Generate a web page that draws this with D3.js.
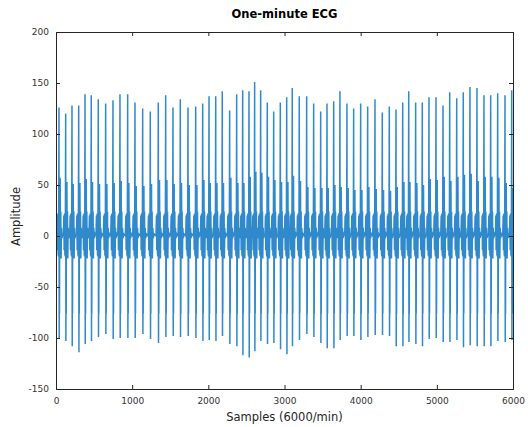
<!DOCTYPE html>
<html>
<head>
<meta charset="utf-8">
<script src="https://cdn.jsdelivr.net/npm/d3@7"></script>
<style>
  body { margin: 0; background: #fff; }
  svg { display: block; font-family: "DejaVu Sans", sans-serif; }
</style>
</head>
<body>
<svg id="chart" width="528" height="427"></svg>
<script>
// Beat data: sample of each R peak and its R / S / T levels
const beatSample = [39, 127, 210, 298, 381, 463, 555, 652, 748, 840, 941, 1037, 1138, 1238, 1343, 1440, 1536, 1632,
  1733, 1834, 1926, 2009, 2097, 2183, 2280, 2372, 2451, 2534, 2608, 2687, 2774, 2858, 2945, 3029, 3102, 3194, 3291,
  3383, 3475, 3558, 3646, 3728, 3820, 3908, 4000, 4092, 4188, 4284, 4376, 4464, 4552, 4631, 4722, 4809, 4897, 4989,
  5081, 5169, 5261, 5347, 5435, 5527, 5619, 5707, 5799, 5895, 5983];
const rPeak = [126, 120, 128, 128, 139, 138, 134, 130, 133, 139, 139, 131, 125, 122, 131, 138, 126, 134, 126, 127,
  130, 137, 137, 142, 123, 139, 143, 142, 151, 143, 131, 122, 131, 136, 145, 137, 137, 130, 122, 130, 132, 142, 130,
  125, 130, 127, 134, 121, 127, 124, 131, 142, 131, 131, 136, 136, 128, 141, 135, 141, 146, 145, 138, 138, 140, 138, 143];
const sTrough = [-100, -103, -108, -114, -106, -103, -99, -96, -101, -100, -100, -100, -96, -101, -105, -99, -98, -99,
  -98, -100, -103, -102, -103, -98, -106, -108, -117, -119, -113, -103, -106, -105, -111, -116, -108, -102, -96, -99,
  -105, -110, -110, -102, -98, -98, -102, -99, -97, -97, -98, -108, -108, -104, -106, -108, -101, -100, -104, -104,
  -102, -109, -107, -108, -108, -108, -103, -104, -102];
const tPeak = [57, 53, 51, 52, 56, 53, 51, 51, 52, 54, 52, 49, 49, 51, 55, 55, 51, 52, 50, 50, 55, 52, 52, 52, 57, 52,
  52, 58, 63, 62, 58, 55, 53, 53, 59, 54, 48, 47, 47, 47, 50, 48, 47, 45, 45, 48, 46, 45, 44, 48, 53, 53, 52, 50, 56,
  55, 58, 54, 58, 60, 61, 54, 58, 58, 57, 52, 47];

// Shape of one beat: sample offset from the R peak and level ('R', 'S', 'T' taken from the beat arrays)
const waveOffset = [-30, -24, -20, -15, -10, -5, 0, 3, 5, 7, 10, 13, 16, 20, 24, 28, 33, 40, 50];
const waveLevel = [0, 20, -14, 22, -18, -20, 'R', 'S', -20, -76, 'T', -20, 'T', -18, 24, -22, 8, -2, 2];

const xTicks = [0, 1000, 2000, 3000, 4000, 5000, 6000];
const yTicks = [-150, -100, -50, 0, 50, 100, 150, 200];

// Build the sample series
const ecg = [{ s: 0, v: 0 }];
beatSample.forEach((b, i) => {
    waveOffset.forEach((o, k) => {
        const lv = waveLevel[k];
        const v = lv === 'R' ? rPeak[i] : lv === 'S' ? sTrough[i] : lv === 'T' ? tPeak[i] : lv;
        ecg.push({ s: b + o, v: v });
    });
});

const svg = d3.select('#chart');
const margin = { top: 32, right: 15, bottom: 38, left: 56 };
const width = 528 - margin.left - margin.right;
const height = 427 - margin.top - margin.bottom;
const axisColor = '#262626';

const g = svg.append('g').attr('transform', `translate(${margin.left},${margin.top})`);

const xScale = d3.scaleLinear().domain([0, 6000]).range([0, width]);
const yScale = d3.scaleLinear().domain([-150, 200]).range([height, 0]);

g.append('clipPath').attr('id', 'plotClip')
    .append('rect').attr('width', width).attr('height', height);

const lineGenerator = d3.line()
    .x(d => xScale(d.s))
    .y(d => yScale(d.v));

g.append('path')
    .datum(ecg)
    .attr('clip-path', 'url(#plotClip)')
    .attr('fill', 'none')
    .attr('stroke', '#1a7cc4')
    .attr('stroke-width', 1.5)
    .attr('stroke-opacity', 0.9)
    .attr('d', lineGenerator);

// Axes, MATLAB-like box with inward ticks
const tickLen = 4;
const fmt = d => d < 0 ? `-${Math.abs(d)}` : `${d}`;

const xAxis = g.append('g')
    .attr('transform', `translate(0,${height})`)
    .call(d3.axisBottom(xScale).tickValues(xTicks).tickSize(-tickLen).tickPadding(tickLen + 5).tickFormat(fmt));
const yAxis = g.append('g')
    .call(d3.axisLeft(yScale).tickValues(yTicks).tickSize(-tickLen).tickPadding(tickLen + 3).tickFormat(fmt));
const xTop = g.append('g')
    .call(d3.axisTop(xScale).tickValues(xTicks).tickSize(-tickLen).tickFormat(''));
const yRight = g.append('g')
    .attr('transform', `translate(${width},0)`)
    .call(d3.axisRight(yScale).tickValues(yTicks).tickSize(-tickLen).tickFormat(''));

[xAxis, yAxis, xTop, yRight].forEach(a => {
    a.select('.domain').attr('stroke', axisColor).attr('stroke-width', 1);
    a.selectAll('.tick line').attr('stroke', axisColor);
    a.selectAll('.tick text')
        .attr('fill', '#333')
        .style('font-family', '"DejaVu Sans", sans-serif')
        .style('font-size', '9px');
});

// Title and axis labels
svg.append('text')
    .attr('x', margin.left + width / 2)
    .attr('y', 18)
    .attr('text-anchor', 'middle')
    .attr('fill', '#000')
    .style('font-weight', 'bold')
    .style('font-size', '11.5px')
    .text('One-minute ECG');

svg.append('text')
    .attr('x', margin.left + width / 2)
    .attr('y', 421)
    .attr('text-anchor', 'middle')
    .attr('fill', axisColor)
    .style('font-size', '11.5px')
    .text('Samples (6000/min)');

svg.append('text')
    .attr('transform', `translate(20,${margin.top + height / 2 + 6}) rotate(-90)`)
    .attr('text-anchor', 'middle')
    .attr('fill', axisColor)
    .style('font-size', '11.5px')
    .text('Amplitude');
</script>
</body>
</html>
